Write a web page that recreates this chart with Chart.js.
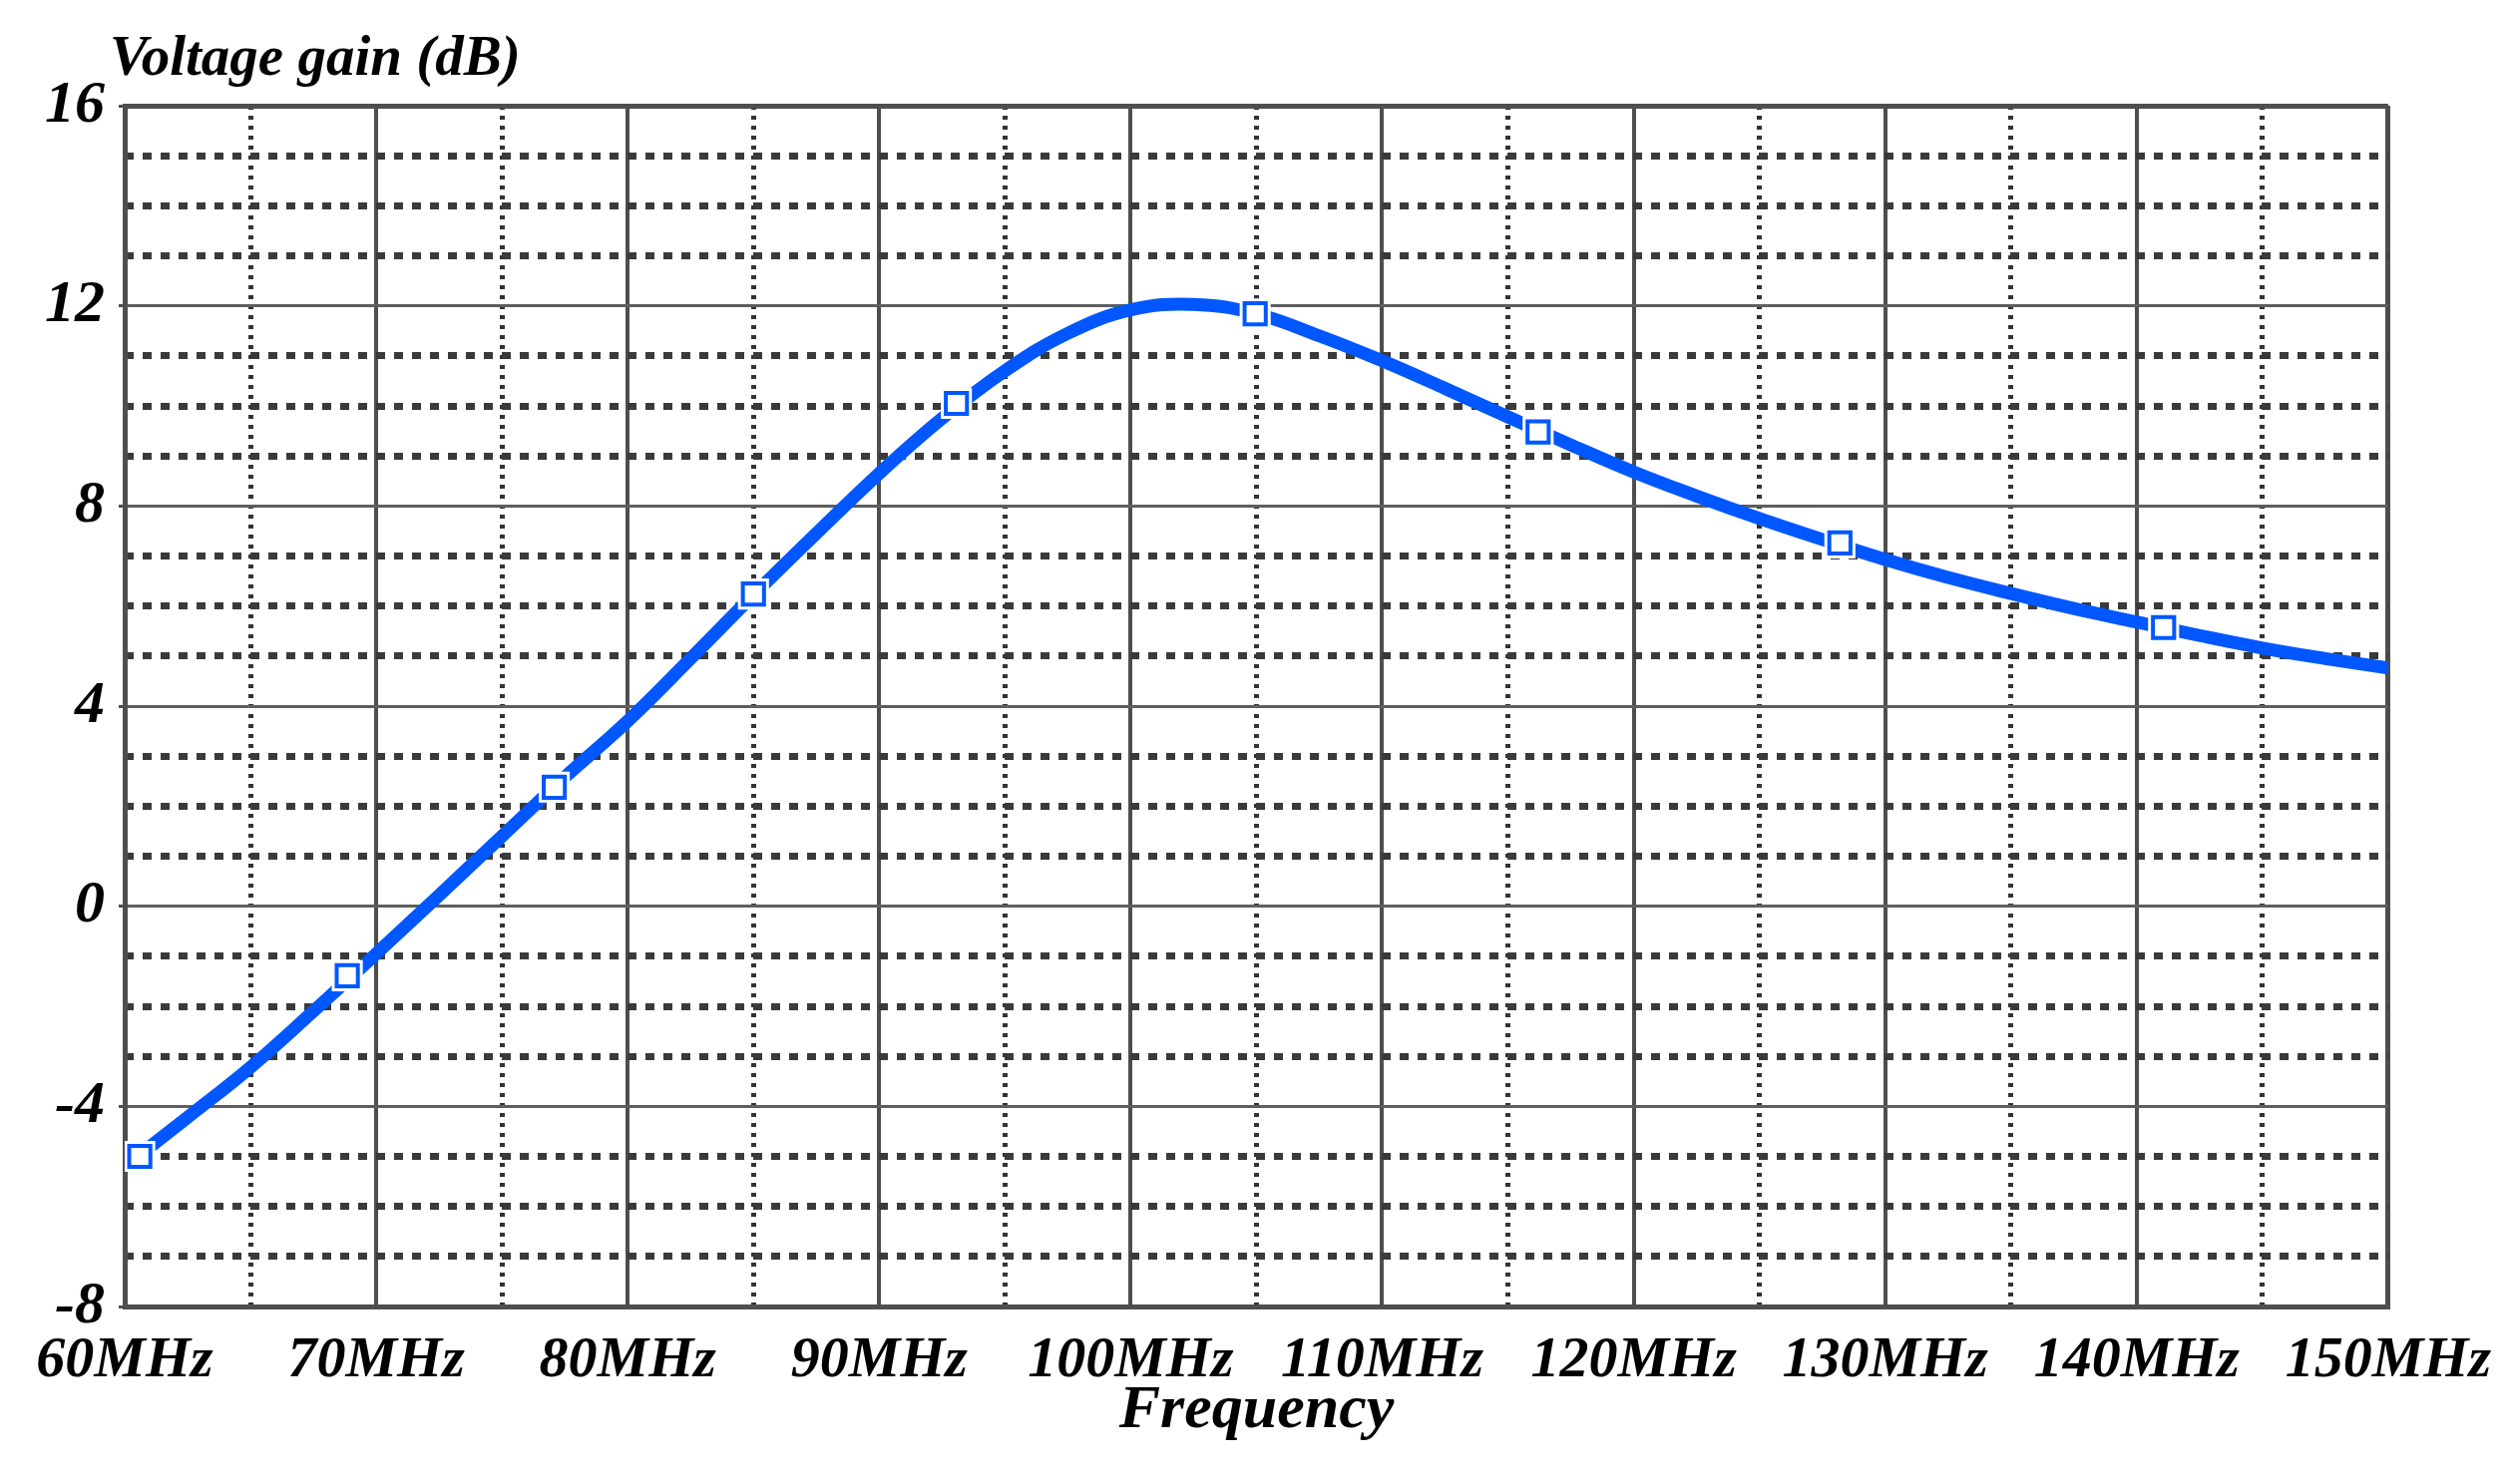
<!DOCTYPE html>
<html>
<head>
<meta charset="utf-8">
<script src="https://cdn.jsdelivr.net/npm/chart.js@4.4.1/dist/chart.umd.min.js"></script>
<style>
  html, body { margin: 0; padding: 0; background: #ffffff; }
  #wrap { position: relative; width: 2517px; height: 1488px; }
</style>
</head>
<body>
<div id="wrap"><canvas id="c" width="2517" height="1488"></canvas></div>
<script>
// ---- data ----
const freqMHz = [60, 62.5, 65, 67.5, 70, 72.5, 75, 77.5, 80, 82.5, 85, 87.5, 90, 92.5, 95, 97.5, 100, 102.5, 105, 107.5, 110, 112.5, 115, 117.5, 120, 122.5, 125, 127.5, 130, 132.5, 135, 137.5, 140, 142.5, 145, 147.5, 150];
const gainDb  = [-5.2, -4.22, -3.22, -2.1, -0.95, 0.22, 1.4, 2.58, 3.7, 4.95, 6.22, 7.45, 8.65, 9.75, 10.7, 11.45, 11.92, 12.03, 11.84, 11.4, 10.9, 10.35, 9.78, 9.22, 8.68, 8.2, 7.75, 7.33, 6.93, 6.57, 6.25, 5.95, 5.68, 5.41, 5.16, 4.95, 4.76];
const markerFreqMHz = [60.6, 68.85, 77.08, 85.0, 93.07, 104.95, 116.2, 128.2, 141.07];
const markerGainDb  = [-5.0, -1.39, 2.38, 6.24, 10.05, 11.84, 9.48, 7.26, 5.57];
const xTickValues = [60, 70, 80, 90, 100, 110, 120, 130, 140, 150];
const xTickLabels = ['60MHz', '70MHz', '80MHz', '90MHz', '100MHz', '110MHz', '120MHz', '130MHz', '140MHz', '150MHz'];
const yTickValues = [-8, -4, 0, 4, 8, 12, 16];
const yTickLabels = ['-8', '-4', '0', '4', '8', '12', '16'];
const yTitle = 'Voltage gain (dB)';
const xTitle = 'Frequency';

const BLUE = '#0057ff';
const GRID = '#4e4e4e';
const FONT = '"Liberation Serif", "Times New Roman", serif';

const curve = freqMHz.map((f, i) => ({ x: f, y: gainDb[i] }));
const marks = markerFreqMHz.map((f, i) => ({ x: f, y: markerGainDb[i] }));

const yTitlePlugin = {
  id: 'yTitlePlugin',
  afterDraw(chart) {
    const ctx = chart.ctx;
    ctx.save();
    ctx.font = 'italic bold 57px ' + FONT;
    ctx.fillStyle = '#000';
    ctx.textAlign = 'left';
    ctx.textBaseline = 'alphabetic';
    ctx.fillText(yTitle, 110, 75);
    ctx.restore();
  }
};

new Chart(document.getElementById('c'), {
  type: 'scatter',
  data: {
    datasets: [
      {
        label: 'gain',
        data: curve,
        showLine: true,
        borderColor: BLUE,
        backgroundColor: BLUE,
        borderWidth: 13,
        pointRadius: 0,
        tension: 0.4,
        order: 3
      },
      {
        label: 'halo',
        data: marks,
        showLine: false,
        pointStyle: 'rect',
        pointRadius: 22,
        pointBackgroundColor: '#ffffff',
        pointBorderWidth: 0,
        pointBorderColor: '#ffffff',
        order: 2
      },
      {
        label: 'markers',
        data: marks,
        showLine: false,
        pointStyle: 'rect',
        pointRadius: 15,
        pointBackgroundColor: '#ffffff',
        pointBorderColor: BLUE,
        pointBorderWidth: 4,
        order: 1
      }
    ]
  },
  options: {
    responsive: false,
    animation: false,
    layout: { padding: { left: 0, top: 106, right: 122, bottom: 0 } },
    plugins: { legend: { display: false }, tooltip: { enabled: false } },
    scales: {
      x: {
        type: 'linear', position: 'bottom', min: 60, max: 150,
        afterBuildTicks: (s) => { s.ticks = xTickValues.map(v => ({ value: v })); },
        afterFit: (s) => { s.height = 178; },
        ticks: {
          padding: 20, color: '#000', maxRotation: 0, autoSkip: false,
          font: { family: FONT, size: 58, style: 'italic', weight: 'bold' },
          callback: (v) => { const i = xTickValues.indexOf(v); return i >= 0 ? xTickLabels[i] : ''; }
        },
        grid: {
          color: GRID,
          lineWidth: (c) => (c.tick && (c.tick.value === 150)) ? 5 : 4,
          drawTicks: false
        },
        border: { display: true, color: GRID, width: 5 },
        title: {
          display: true, text: xTitle, color: '#000',
          font: { family: FONT, size: 62, style: 'italic', weight: 'bold' },
          padding: { top: 0, bottom: 36 }
        }
      },
      x2: {
        type: 'linear', position: 'top', min: 60, max: 150,
        afterBuildTicks: (s) => { const t = []; for (let v = 65; v < 150; v += 10) t.push({ value: v }); s.ticks = t; },
        afterFit: (s) => { s.height = 0; },
        ticks: { display: false },
        grid: { color: '#333333', lineWidth: 5, drawTicks: false },
        border: { display: false, dash: [4, 6] }
      },
      y: {
        type: 'linear', position: 'left', min: -8, max: 16,
        afterBuildTicks: (s) => { s.ticks = yTickValues.map(v => ({ value: v })); },
        afterFit: (s) => { s.width = 125; },
        ticks: {
          padding: 14, color: '#000',
          font: { family: FONT, size: 60, style: 'italic', weight: 'bold' },
          callback: (v) => { const i = yTickValues.indexOf(v); return i >= 0 ? yTickLabels[i] : ''; }
        },
        grid: {
          color: (c) => (c.tick && (c.tick.value === 16)) ? GRID : '#5e5e5e',
          lineWidth: (c) => (c.tick && (c.tick.value === 16)) ? 5 : 3,
          drawTicks: true, tickLength: 6, tickColor: GRID, tickWidth: 3
        },
        border: { display: true, color: GRID, width: 5 }
      },
      y2: {
        type: 'linear', position: 'right', min: -8, max: 16,
        afterBuildTicks: (s) => { const t = []; for (let v = -7; v < 16; v++) { if (((v % 4) + 4) % 4 !== 0) t.push({ value: v }); } s.ticks = t; },
        afterFit: (s) => { s.width = 0; },
        ticks: { display: false },
        grid: { color: '#3a3a3a', lineWidth: 7, drawTicks: false },
        border: { display: false, dash: [9, 9] }
      }
    }
  },
  plugins: [yTitlePlugin]
});
</script>
</body>
</html>
